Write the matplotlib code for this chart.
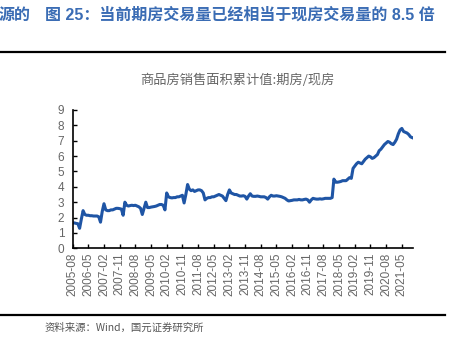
import numpy as np
import matplotlib
matplotlib.use('Agg')
import matplotlib.pyplot as plt

plt.rcParams['font.family'] = ['Liberation Sans', 'Noto Sans CJK SC', 'DejaVu Sans']

# monthly ratio, 2005-08 .. 2021-11
ratio = [
    1.65, 1.65, 1.62, 1.60, 1.30, 1.90, 2.45, 2.20, 2.15, 2.15,
    2.12, 2.12, 2.10, 2.10, 2.10, 2.05, 1.70, 2.40, 2.90, 2.50,
    2.45, 2.45, 2.50, 2.50, 2.55, 2.60, 2.60, 2.58, 2.55, 2.15,
    3.00, 2.80, 2.75, 2.78, 2.80, 2.78, 2.80, 2.75, 2.70, 2.60,
    2.20, 2.60, 3.00, 2.65, 2.65, 2.68, 2.70, 2.72, 2.75, 2.80,
    2.85, 2.85, 2.80, 2.50, 3.60, 3.35, 3.30, 3.28, 3.30, 3.30,
    3.35, 3.35, 3.40, 3.45, 2.95, 3.50, 4.15, 3.85, 3.75, 3.80,
    3.70, 3.75, 3.80, 3.80, 3.75, 3.60, 3.15, 3.25, 3.30, 3.30,
    3.35, 3.35, 3.40, 3.45, 3.50, 3.45, 3.40, 3.25, 3.10, 3.50,
    3.80, 3.60, 3.55, 3.50, 3.50, 3.45, 3.40, 3.40, 3.42, 3.38,
    3.20, 3.40, 3.55, 3.40, 3.38, 3.38, 3.40, 3.38, 3.35, 3.35,
    3.35, 3.30, 3.20, 3.35, 3.45, 3.40, 3.40, 3.42, 3.40, 3.38,
    3.35, 3.30, 3.25, 3.15, 3.08, 3.10, 3.12, 3.15, 3.15, 3.15,
    3.18, 3.15, 3.15, 3.18, 3.20, 3.15, 3.00, 3.15, 3.25, 3.22,
    3.20, 3.20, 3.22, 3.20, 3.22, 3.25, 3.25, 3.25, 3.25, 3.30,
    4.50, 4.30, 4.30, 4.32, 4.35, 4.40, 4.40, 4.40, 4.50, 4.60,
    4.55, 5.20, 5.35, 5.50, 5.60, 5.55, 5.50, 5.65, 5.80, 5.90,
    6.00, 5.95, 5.85, 5.90, 6.00, 6.10, 6.35, 6.45, 6.60, 6.75,
    6.85, 6.95, 6.90, 6.80, 6.75, 6.90, 7.10, 7.45, 7.70, 7.80,
    7.60, 7.55, 7.50, 7.40, 7.25, 7.20,
]
tick_labels = ['2005-08', '2006-05', '2007-02', '2007-11', '2008-08', '2009-05',
               '2010-02', '2010-11', '2011-08', '2012-05', '2013-02', '2013-11',
               '2014-08', '2015-05', '2016-02', '2016-11', '2017-08', '2018-05',
               '2019-02', '2019-11', '2020-08', '2021-05']
header = '图 25：当前期房交易量已经相当于现房交易量的 8.5 倍'
chart_title = '商品房销售面积累计值:期房/现房'
source = '资料来源：Wind，国元证券研究所'

fig = plt.figure(figsize=(4.54, 3.38), dpi=100)
ax = fig.add_axes([0.160, 0.2654, 0.750, 0.4092])

x = np.arange(len(ratio))
ax.plot(x, ratio, color='#1f55a5', lw=2.2, solid_joinstyle='round')
ax.set_xlim(0, len(ratio) - 0.5)
ax.set_ylim(0, 9)
ax.set_yticks(range(10))
ax.set_xticks(np.arange(0, len(ratio), 9))
ax.set_xticklabels(tick_labels, rotation=90)
for s in ['top', 'right']:
    ax.spines[s].set_visible(False)
for s in ['left', 'bottom']:
    ax.spines[s].set_linewidth(1.2)
    ax.spines[s].set_color('black')
ax.tick_params(direction='in', length=3, width=1, colors='black',
               labelcolor='#666666', labelsize=8.5, pad=3)
ax.tick_params(axis='y', pad=6)

fig.text(0.522, 0.762, chart_title, ha='center', va='center', fontsize=9.5,
         color='#666666', family=['Noto Sans CJK SC', 'DejaVu Sans'])

blue = '#3a6cb4'
fig.text(-0.003, 0.955, '源的', ha='left', va='center', fontsize=11.5,
         fontweight='bold', color=blue, family=['Noto Sans CJK SC', 'DejaVu Sans'])
fig.text(0.099, 0.955, header, ha='left', va='center', fontsize=11.5,
         fontweight='bold', color=blue, family=['Liberation Sans', 'Noto Sans CJK SC'])

fig.add_artist(plt.Line2D([0, 0.98], [0.845, 0.845], color='black', lw=1.6))
fig.add_artist(plt.Line2D([0, 0.98], [0.068, 0.068], color='black', lw=1.6))
fig.text(0.097, 0.030, source, ha='left', va='center', fontsize=7.5,
         color='#555555', family=['Noto Sans CJK SC', 'DejaVu Sans'])

fig.savefig('out.png', dpi=100)
